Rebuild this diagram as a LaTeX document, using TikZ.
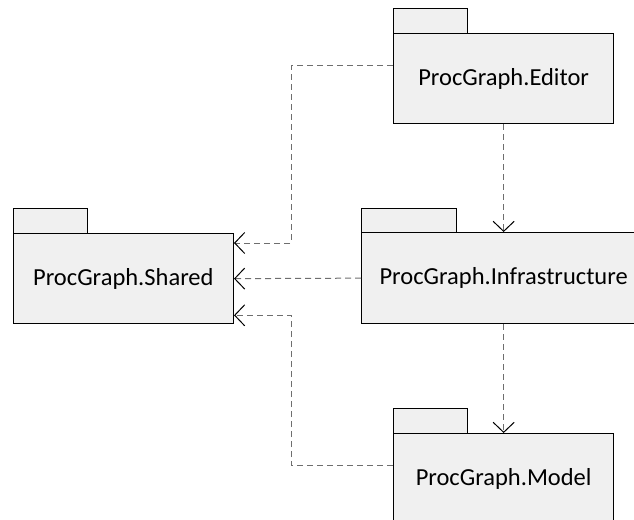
\documentclass[tikz,border=0pt]{standalone}
\usepackage{fontspec}
\setmainfont{Carlito}
\usetikzlibrary{arrows.meta}
\definecolor{pkgfill}{HTML}{F0F0F0}
\definecolor{depgray}{HTML}{6E6E6E}
\begin{document}
\begin{tikzpicture}[x=1pt,y=-1pt,
  pkgbody/.style={draw=black,line width=1.3pt,fill=pkgfill,anchor=north west,inner sep=0pt,
    font=\fontsize{24.5}{29}\selectfont},
  pkgtab/.style={draw=black,line width=1.3pt,fill=pkgfill,anchor=north west,inner sep=0pt},
  dep/.style={draw=depgray,line width=1pt,dash pattern=on 6pt off 4pt,
    -{Straight Barb[length=10pt,width=21pt,color=black,line width=1pt]}}]
\useasboundingbox (0,0) rectangle (634,519);
\clip (0,0) rectangle (634,519);
% tabs
\node[pkgtab,minimum width=74pt,minimum height=25pt] (edtab) at (393,8) {};
\node[pkgtab,minimum width=95pt,minimum height=24pt] (inftab) at (361,208) {};
\node[pkgtab,minimum width=74pt,minimum height=25pt] (shtab) at (12.7,208) {};
\node[pkgtab,minimum width=74pt,minimum height=25pt] (mdtab) at (393,408) {};
% bodies
\node[pkgbody,minimum width=220pt,minimum height=90pt] (ed) at (393,33) {ProcGraph.Editor};
\node[pkgbody,minimum width=284pt,minimum height=91pt] (inf) at (361,232) {ProcGraph.Infrastructure};
\node[pkgbody,minimum width=220pt,minimum height=90pt] (sh) at (12.7,233) {ProcGraph.Shared};
\node[pkgbody,minimum width=220pt,minimum height=90pt] (md) at (393,433) {ProcGraph.Model};
% routing coordinates
\coordinate (edout) at ([yshift=-33pt]ed.north west);
\coordinate (mdout) at ([yshift=-32pt]md.north west);
\coordinate (shin1) at ([yshift=-10pt]sh.north east);
\coordinate (shin3) at ([yshift=9pt]sh.south east);
% dependencies
\draw[dep] (edout) -| (291,0 |- shin1) -- (shin1);
\draw[dep] (inf.west) -- (sh.east);
\draw[dep] (mdout) -| (291,0 |- shin3) -- (shin3);
\draw[dep] (ed.south) -- (ed.south |- inf.north);
\draw[dep] (md.north |- inf.south) -- (md.north);
\end{tikzpicture}
\end{document}
